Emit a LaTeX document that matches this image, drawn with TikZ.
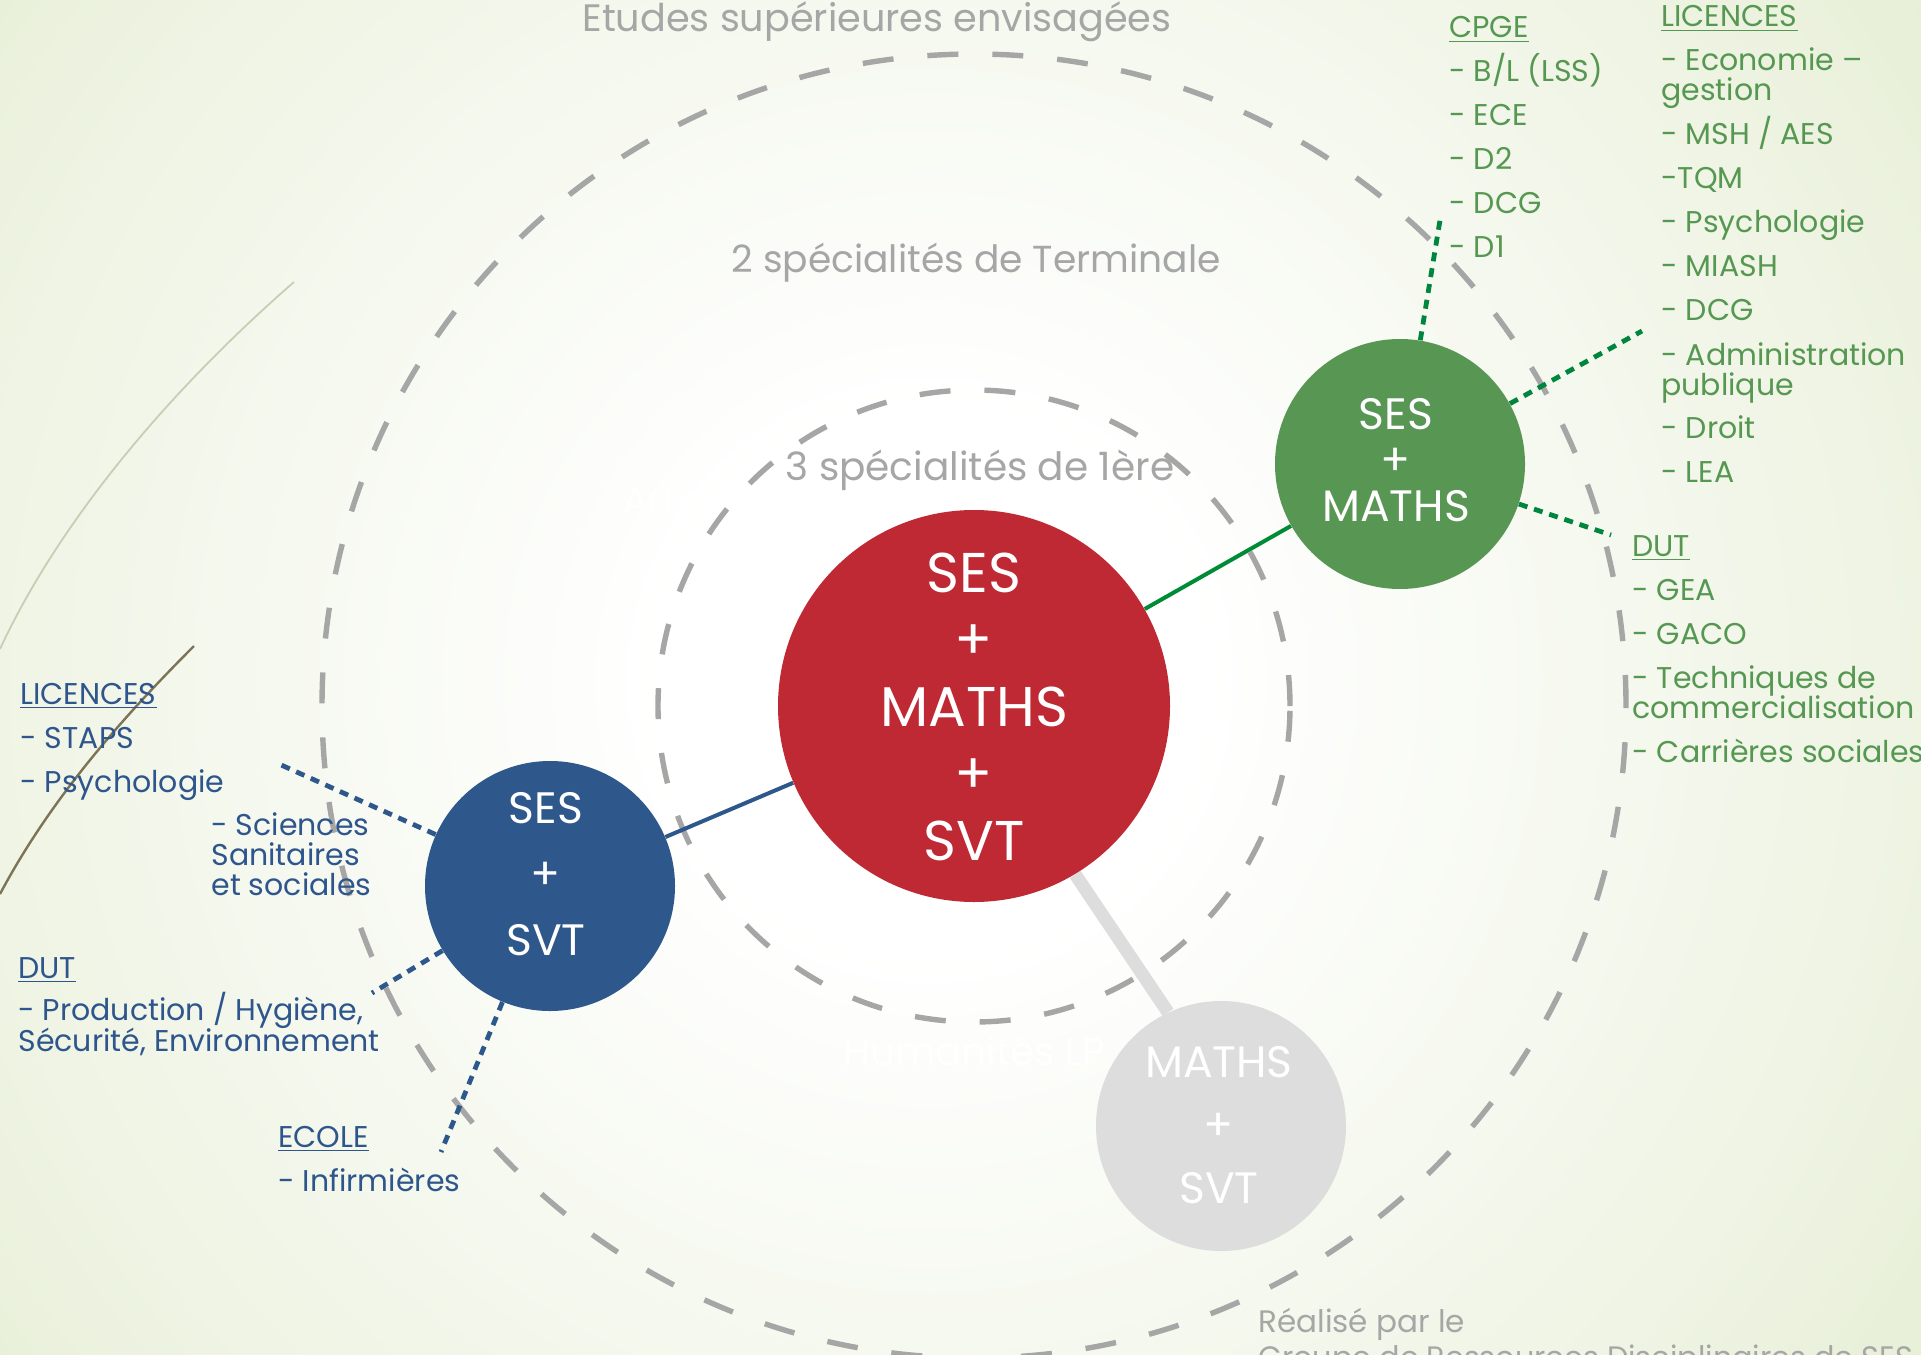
\documentclass[tikz,border=0pt]{standalone}
\usepackage{fontspec}
\setmainfont{Poppins}
\pgfdeclarelayer{back}
\pgfdeclarelayer{mid}
\pgfsetlayers{back,mid,main}
\definecolor{bggreen}{RGB}{217,230,190}
\definecolor{bgmid}{RGB}{239,244,228}
\definecolor{sesred}{RGB}{190,41,52}
\definecolor{sesgreen}{RGB}{88,150,84}
\definecolor{sesblue}{RGB}{46,88,140}
\definecolor{sesgrey}{RGB}{221,221,221}
\definecolor{labelgrey}{RGB}{166,166,166}
\definecolor{txtgreen}{RGB}{86,152,82}
\definecolor{txtblue}{RGB}{46,86,140}
\definecolor{lkgreen}{RGB}{0,133,62}
\definecolor{linkgreen}{RGB}{0,140,55}
\definecolor{brownline}{RGB}{125,115,85}
\definecolor{paleline}{RGB}{200,205,180}
\pgfdeclareradialshading{bgshade}{\pgfpoint{0bp}{0bp}}{color(0bp)=(white); color(4bp)=(white); color(14bp)=(bgmid); color(25bp)=(bggreen); color(50bp)=(bggreen)}
\tikzset{
  ring/.style={draw=labelgrey, line width=2.7pt, dash pattern=on 15.5pt off 17pt},
  disc/.style={circle, inner sep=0pt, draw=none},
  disctext/.style={text=white, align=center, inner sep=0pt},
  glabel/.style={text=labelgrey, inner sep=0pt},
  ghost/.style={text=white, font=\fontsize{19.5}{24}\selectfont, inner sep=0pt},
  greenlist/.style={text=txtgreen, font=\fontsize{15}{22}\selectfont, inner sep=0pt, anchor=base west},
  bluelist/.style={text=txtblue, font=\fontsize{15}{22}\selectfont, inner sep=0pt, anchor=base west},
  gdots/.style={draw=lkgreen, line width=2.4pt, dash pattern=on 4.5pt off 3.5pt},
  bdots/.style={draw=sesblue, line width=2.4pt, dash pattern=on 4.5pt off 3.5pt},
  link/.style={line width=2pt},
}
\begin{document}
\begin{tikzpicture}[x=0.5pt,y=-0.5pt]
\useasboundingbox (0,0) rectangle (1921,1354);
\coordinate (ctr) at (974,706);
\coordinate (bgc) at (930,680);
\begin{pgfonlayer}{back}
  \shade[shading=bgshade] (bgc) circle[radius=850pt];
  \draw[paleline, line width=0.9pt] (294,282) .. controls (170,390) and (60,520) .. (0,649);
  \draw[brownline, line width=1.2pt] (194,646) .. controls (120,720) and (50,800) .. (0,894);
  \draw[ring] (ctr) circle[radius=326pt];
  \draw[ring] (ctr) circle[radius=158pt];
\end{pgfonlayer}

% discs
\node[disc, fill=sesred, minimum size=196pt] (red) at (974,706) {};
\node[disc, fill=sesgreen, minimum size=125pt] (green) at (1400,464) {};
\node[disc, fill=sesblue, minimum size=125pt] (blue) at (550,886) {};
\node[disc, fill=sesgrey, minimum size=125pt] (grey) at (1221,1126) {};

\node[disctext, font=\fontsize{28}{33.5}\selectfont] (redtxt) at (974,707) {SES\\+\\MATHS\\+\\SVT};
\node[disctext, font=\fontsize{22}{23}\selectfont] (greentxt) at (1396,460) {SES\\+\\MATHS};
\node[disctext, font=\fontsize{22}{33}\selectfont] (bluetxt) at (546,874) {SES\\+\\SVT};
\node[disctext, font=\fontsize{22}{31.5}\selectfont] (greytxt) at (1219,1125) {MATHS\\+\\SVT};

% free ends of dotted connectors
\coordinate (g1) at (1441,214);
\coordinate (g2) at (1642,331);
\coordinate (g3) at (1611,535);
\coordinate (b1) at (279,764);
\coordinate (b2) at (372,993);
\coordinate (b3) at (441,1152);

\begin{pgfonlayer}{mid}
  \draw[link, draw=linkgreen] (red) -- (green);
  \draw[link, draw=sesblue] (red) -- (blue);
  \draw[draw=sesgrey, line width=6.5pt] (red.-59) -- (grey.115);
  \draw[gdots] (green) -- (g1);
  \draw[gdots] (green) -- (g2);
  \draw[gdots] (green) -- (g3);
  \draw[bdots] (blue) -- (b1);
  \draw[bdots] (blue) -- (b2);
  \draw[bdots] (blue) -- (b3);
\end{pgfonlayer}

% grey labels
\node[glabel, font=\fontsize{19.1}{24}\selectfont, anchor=base] (etudes) at (877,32) {Etudes supérieures envisagées};
\node[glabel, font=\fontsize{18.8}{24}\selectfont, anchor=base] (term) at (976,272) {2 spécialités de Terminale};
\node[glabel, font=\fontsize{19.5}{24}\selectfont, anchor=base] (prem) at (980,480) {3 spécialités de 1ère};
\node[ghost, anchor=base] (arts) at (660,514) {Arts};
\node[ghost, anchor=base] (huma) at (974,1065) {Humanités LP};
\node[glabel, font=\fontsize{15.5}{15}\selectfont, anchor=base west] (realise) at (1258,1332)
  {\parbox[t]{20cm}{\raggedright Réalisé par le\\[1.5pt]\scalebox{0.978}[1]{Groupe de Ressources Disciplinaires de SES}}};

% green lists
\node[greenlist] (cpge) at (1449,38)
  {\parbox[t]{6cm}{\raggedright\underline{CPGE}\\- B/L (LSS)\\- ECE\\- D2\\- DCG\\- D1}};
\node[greenlist] (licg) at (1661,27)
  {\parbox[t]{6cm}{\raggedright\underline{LICENCES}\\- Economie --\\[-7pt]gestion\\- MSH / AES\\-TQM\\- Psychologie\\- MIASH\\- DCG\\- Administration\\[-7pt]publique\\- Droit\\- LEA}};
\node[greenlist] (dutg) at (1632,556)
  {\parbox[t]{6cm}{\raggedright\underline{DUT}\\- GEA\\- GACO\\- Techniques de\\[-7pt]commercialisation\\- Carrières sociales}};

% blue lists
\node[bluelist] (licb) at (20,704)
  {\parbox[t]{6cm}{\raggedright\underline{LICENCES}\\- STAPS\\- Psychologie}};
\node[bluelist] (sss) at (211,835)
  {\parbox[t]{6cm}{\raggedright - Sciences\\[-7pt]Sanitaires\\[-7pt]et sociales}};
\node[bluelist] (dutb) at (18,978)
  {\parbox[t]{8cm}{\raggedright\underline{DUT}\\[-1pt]- Production / Hygiène,\\[-6.5pt]Sécurité, Environnement}};
\node[bluelist] (ecole) at (278,1147)
  {\parbox[t]{6cm}{\raggedright\underline{ECOLE}\\- Infirmières}};
\end{tikzpicture}
\end{document}
